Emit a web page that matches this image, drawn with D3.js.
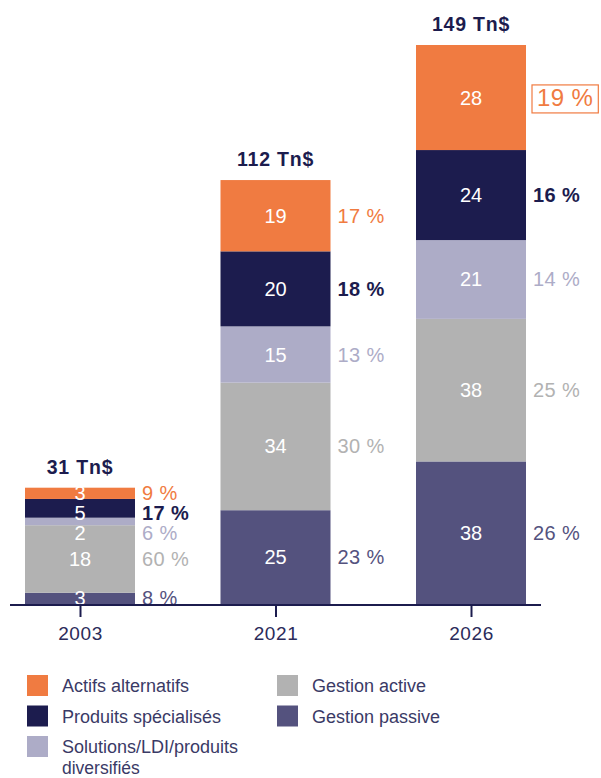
<!DOCTYPE html>
<html>
<head>
<meta charset="utf-8">
<script src="https://cdn.jsdelivr.net/npm/d3@7"></script>
<style>
  body { margin: 0; background: #fff; }
  svg { font-family: "Liberation Sans", Arial, sans-serif; }
</style>
</head>
<body>
<svg id="chart" width="601" height="778"></svg>
<script>
// data
const years = ["2003", "2021", "2026"];
const totals = ["31 Tn$", "112 Tn$", "149 Tn$"];
const series = ["Gestion passive", "Gestion active", "Solutions/LDI/produits diversifiés", "Produits spécialisés", "Actifs alternatifs"];
const passive = [3, 25, 38];
const active = [18, 34, 38];
const solutions = [2, 15, 21];
const specialises = [5, 20, 24];
const alternatifs = [3, 19, 28];
const passivePct = ["8 %", "23 %", "26 %"];
const activePct = ["60 %", "30 %", "25 %"];
const solutionsPct = ["6 %", "13 %", "14 %"];
const specialisesPct = ["17 %", "18 %", "16 %"];
const alternatifsPct = ["9 %", "17 %", "19 %"];

const values = [passive, active, solutions, specialises, alternatifs];
const pcts = [passivePct, activePct, solutionsPct, specialisesPct, alternatifsPct];
const colors = ["#54527e", "#b2b2b2", "#adacc7", "#1c1c4e", "#f07b41"];
const navy = "#1c1c4e";

const svg = d3.select("#chart");
const baseY = 604;
const barW = 110;

const x = d3.scalePoint().domain(years).range([80, 471]);
const y = d3.scaleLinear().domain([0, 149]).range([baseY, 45]);

// table pour d3.stack
const table = years.map((yr, i) => {
    const row = { year: yr };
    series.forEach((s, k) => row[s] = values[k][i]);
    return row;
});
const stacked = d3.stack().keys(series)(table);

// barres
stacked.forEach((layer, k) => {
    svg.append("g")
        .selectAll("rect")
        .data(layer)
        .enter()
        .append("rect")
        .attr("x", d => x(d.data.year) - barW / 2)
        .attr("y", d => y(d[1]))
        .attr("width", barW)
        .attr("height", d => y(d[0]) - y(d[1]))
        .attr("fill", colors[k]);
});

// positions des étiquettes, décalées si trop serrées (du haut vers le bas)
function labelPositions(i, gap) {
    const centers = stacked.map(layer => (y(layer[i][0]) + y(layer[i][1])) / 2);
    const out = [];
    let prev = -Infinity;
    for (let k = centers.length - 1; k >= 0; k--) {
        const c = Math.max(centers[k], prev + gap);
        out[k] = c;
        prev = c;
    }
    return out;
}

years.forEach((yr, i) => {
    const inner = labelPositions(i, 20);
    const outer = labelPositions(i, 20);
    const cx = x(yr);

    series.forEach((s, k) => {
        // valeur dans la barre
        svg.append("text")
            .attr("x", cx)
            .attr("y", inner[k])
            .attr("dy", "0.35em")
            .attr("text-anchor", "middle")
            .attr("fill", "#fff")
            .attr("font-size", "20px")
            .text(values[k][i]);

        // pourcentage à droite (le dernier, encadré, est plus grand)
        const boxed = k === 4 && i === years.length - 1;
        const t = svg.append("text")
            .attr("x", cx + barW / 2 + (boxed ? 11 : 7))
            .attr("y", outer[k])
            .attr("dy", "0.35em")
            .attr("fill", colors[k])
            .attr("font-size", boxed ? "24px" : "20px")
            .attr("letter-spacing", "0.4px")
            .attr("font-weight", k === 3 ? "bold" : "normal")
            .text(pcts[k][i]);

        if (boxed) {
            const bb = t.node().getBBox();
            svg.append("rect")
                .attr("x", bb.x - 5)
                .attr("y", bb.y + 1)
                .attr("width", bb.width + 10)
                .attr("height", bb.height + 1)
                .attr("fill", "none")
                .attr("stroke", colors[4])
                .attr("stroke-width", 1.2);
        }
    });

    // total au-dessus
    svg.append("text")
        .attr("x", cx)
        .attr("y", y(d3.sum(values, v => v[i])) - 14)
        .attr("text-anchor", "middle")
        .attr("fill", navy)
        .attr("font-size", "19.5px")
        .attr("letter-spacing", "0.8px")
        .attr("font-weight", "bold")
        .text(totals[i]);
});

// axe X
const xAxis = d3.axisBottom(x).tickSize(12).tickSizeOuter(0).tickPadding(10);
const gx = svg.append("g")
    .attr("transform", `translate(0,${baseY + 1})`)
    .call(xAxis);
gx.select(".domain").remove();
gx.selectAll(".tick line").attr("stroke", navy).attr("stroke-width", 2);
gx.selectAll(".tick text")
    .attr("fill", "#2b2b5a")
    .attr("font-size", "19px")
    .attr("letter-spacing", "0.6px")
    .attr("font-family", "Liberation Sans, Arial, sans-serif");
svg.append("line")
    .attr("x1", 10).attr("x2", 541)
    .attr("y1", baseY + 1).attr("y2", baseY + 1)
    .attr("stroke", navy)
    .attr("stroke-width", 2);

// légende
const legend = [
    { name: "Actifs alternatifs", k: 4, col: 0, row: 0 },
    { name: "Produits spécialisés", k: 3, col: 0, row: 1 },
    { name: "Solutions/LDI/produits", name2: "diversifiés", k: 2, col: 0, row: 2 },
    { name: "Gestion active", k: 1, col: 1, row: 0 },
    { name: "Gestion passive", k: 0, col: 1, row: 1 }
];
const lg = svg.append("g");
legend.forEach(d => {
    const lx = 27 + d.col * 250;
    const ly = 675 + d.row * 30.5;
    lg.append("rect")
        .attr("x", lx).attr("y", ly)
        .attr("width", 21).attr("height", 21)
        .attr("fill", colors[d.k]);
    lg.append("text")
        .attr("x", lx + 35)
        .attr("y", ly + 17)
        .attr("fill", "#3a3a66")
        .attr("font-size", "18px")
        .text(d.name);
    if (d.name2) {
        lg.append("text")
            .attr("x", lx + 35)
            .attr("y", ly + 38)
            .attr("fill", "#3a3a66")
            .attr("font-size", "17.5px")
            .text(d.name2);
    }
});
</script>
</body>
</html>
